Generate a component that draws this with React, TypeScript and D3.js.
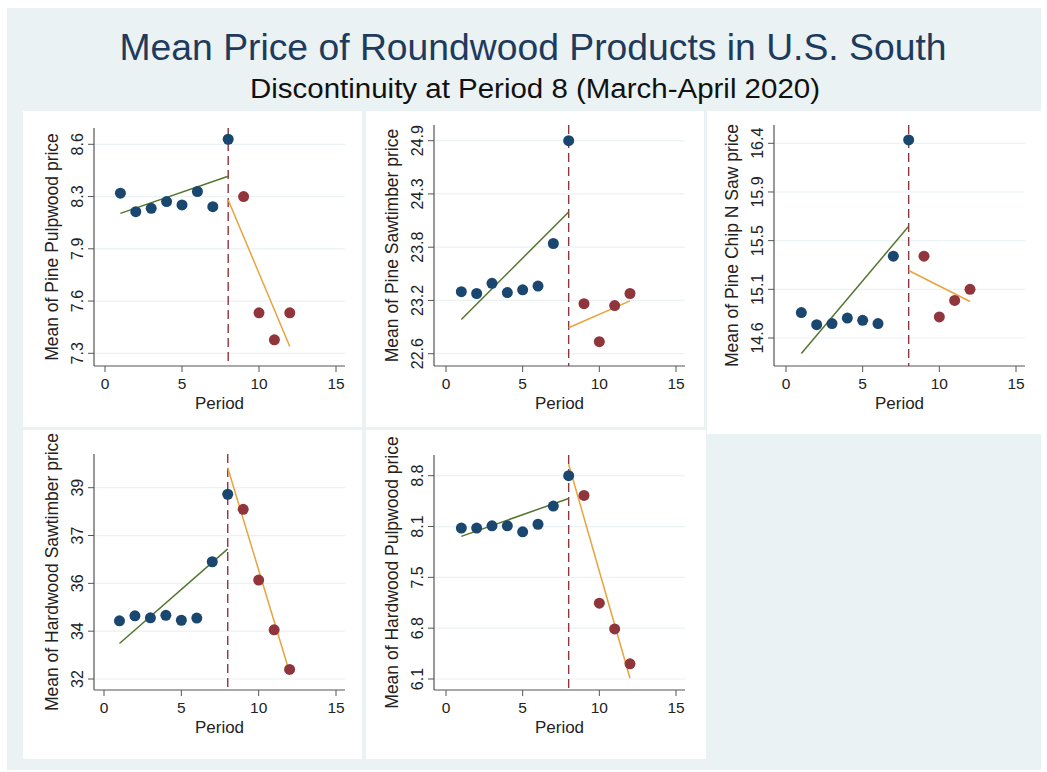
import * as d3 from 'd3';
import * as React from 'react';

// periods 1..12, breakpoint at 8
const periods = [1, 2, 3, 4, 5, 6, 7, 8, 9, 10, 11, 12];
const xTicks = [0, 5, 10, 15];
const cutoff = 8;

const yLabels = [
  'Mean of Pine Pulpwood price',
  'Mean of Pine Sawtimber price',
  'Mean of Pine Chip N Saw price',
  'Mean of Hardwood Sawtimber price',
  'Mean of Hardwood Pulpwood price',
];

// tick values (evenly spaced) and their printed labels
const yTickValues = [
  [7.32, 7.63, 7.94, 8.25, 8.56],
  [22.62, 23.195, 23.77, 24.345, 24.92],
  [14.62, 15.06, 15.5, 15.94, 16.38],
  [32.1, 33.85, 35.6, 37.35, 39.1],
  [6.12, 6.79, 7.46, 8.13, 8.8],
];
const yTickLabels = [
  ['7.3', '7.6', '7.9', '8.3', '8.6'],
  ['22.6', '23.2', '23.8', '24.3', '24.9'],
  ['14.6', '15.1', '15.5', '15.9', '16.4'],
  ['32', '34', '36', '37', '39'],
  ['6.1', '6.8', '7.5', '8.1', '8.8'],
];

// mean price per period
const pinePulp = [8.27, 8.16, 8.18, 8.22, 8.2, 8.28, 8.19, 8.59, 8.25, 7.56, 7.4, 7.56];
const pineSaw = [23.29, 23.27, 23.38, 23.28, 23.31, 23.35, 23.81, 24.92, 23.16, 22.75, 23.14, 23.27];
const pineCns = [14.85, 14.74, 14.75, 14.8, 14.78, 14.75, 15.36, 16.41, 15.36, 14.81, 14.96, 15.06];
const hardSaw = [34.23, 34.41, 34.34, 34.43, 34.25, 34.33, 36.39, 38.86, 38.31, 35.72, 33.9, 32.45];
const hardPulp = [8.11, 8.11, 8.14, 8.14, 8.06, 8.16, 8.4, 8.8, 8.54, 7.12, 6.78, 6.32];
const series = [pinePulp, pineSaw, pineCns, hardSaw, hardPulp];

// linear fit end values: [at period 1, at period 8] and [at period 8, at period 12]
const fitBefore = [
  [8.15, 8.37],
  [22.99, 24.15],
  [14.48, 15.63],
  [33.4, 36.86],
  [8.0, 8.5],
];
const fitAfter = [
  [8.23, 7.36],
  [22.9, 23.19],
  [15.23, 14.95],
  [39.83, 32.34],
  [8.95, 6.13],
];

// layout per panel
const boxes = [
  { x: 23, y: 111, w: 339, h: 316 },
  { x: 366, y: 111, w: 338, h: 316 },
  { x: 707, y: 111, w: 336, h: 323 },
  { x: 23, y: 430, w: 339, h: 329 },
  { x: 366, y: 430, w: 340, h: 329 },
];
const frames = [
  { x0: 105, x15: 336, yLo: 353.3, yHi: 144.3, axisY: 366, top: 128, axisX: 94 },
  { x0: 446, x15: 676, yLo: 353.7, yHi: 140.7, axisY: 366, top: 125, axisX: 434 },
  { x0: 786, x15: 1016, yLo: 338, yHi: 143.3, axisY: 366, top: 125, axisX: 774 },
  { x0: 104, x15: 336, yLo: 679, yHi: 487.7, axisY: 690, top: 454, axisX: 94 },
  { x0: 446, x15: 676, yLo: 679, yHi: 475.7, axisY: 690, top: 455, axisX: 434 },
];

const navy = '#1a476f';
const maroon = '#90353b';
const green = '#55752f';
const orange = '#e8a33c';
const bg = '#eaf2f3';
const font = 'Liberation Sans, Arial, sans-serif';

function Panel({ i }: { i: number }) {
  const f = frames[i];
  const b = boxes[i];
  const ticks = yTickValues[i];
  const x = d3.scaleLinear().domain([0, 15]).range([f.x0, f.x15]);
  const y = d3
    .scaleLinear()
    .domain([ticks[0], ticks[ticks.length - 1]])
    .range([f.yLo, f.yHi]);
  const right = x(15) + 9;
  const line = d3
    .line<[number, number]>()
    .x((d) => x(d[0]))
    .y((d) => y(d[1]));
  const before: [number, number][] = [
    [1, fitBefore[i][0]],
    [cutoff, fitBefore[i][1]],
  ];
  const after: [number, number][] = [
    [cutoff, fitAfter[i][0]],
    [12, fitAfter[i][1]],
  ];
  const vals = series[i];
  const midY = (f.top + f.axisY) / 2;
  const midX = (f.axisX + right) / 2;

  return (
    <g>
      <rect x={b.x} y={b.y} width={b.w} height={b.h} fill="#fff" />
      {ticks.map((t, k) => (
        <g key={k}>
          <line x1={f.axisX} x2={right} y1={y(t)} y2={y(t)} stroke={bg} strokeWidth={1.2} />
          <line x1={f.axisX - 6} x2={f.axisX} y1={y(t)} y2={y(t)} stroke="#555" />
          <text
            transform={`translate(${f.axisX - 11},${y(t)}) rotate(-90)`}
            textAnchor="middle"
            fontSize={16}
            fill="#222"
            fontFamily={font}
          >
            {yTickLabels[i][k]}
          </text>
        </g>
      ))}
      <line x1={f.axisX} x2={f.axisX} y1={f.top} y2={f.axisY} stroke="#555" strokeWidth={1.2} />
      <line x1={f.axisX} x2={right} y1={f.axisY} y2={f.axisY} stroke="#555" strokeWidth={1.2} />
      {xTicks.map((t) => (
        <g key={t}>
          <line x1={x(t)} x2={x(t)} y1={f.axisY} y2={f.axisY + 6} stroke="#555" />
          <text x={x(t)} y={f.axisY + 23} textAnchor="middle" fontSize={15.5} fill="#222" fontFamily={font}>
            {t}
          </text>
        </g>
      ))}
      <text x={midX} y={f.axisY + 43} textAnchor="middle" fontSize={17} fill="#222" fontFamily={font}>
        Period
      </text>
      <text
        transform={`translate(${f.axisX - 36},${midY}) rotate(-90)`}
        textAnchor="middle"
        fontSize={17.5}
        fill="#222"
        fontFamily={font}
      >
        {yLabels[i]}
      </text>
      <line
        x1={x(cutoff)}
        x2={x(cutoff)}
        y1={f.top}
        y2={f.axisY}
        stroke={maroon}
        strokeWidth={1.4}
        strokeDasharray="9,5"
      />
      <path d={line(before) ?? ''} fill="none" stroke={green} strokeWidth={1.5} />
      <path d={line(after) ?? ''} fill="none" stroke={orange} strokeWidth={1.5} />
      {periods.map((p, k) => (
        <circle key={p} cx={x(p)} cy={y(vals[k])} r={5.5} fill={p <= cutoff ? navy : maroon} />
      ))}
    </g>
  );
}

export default function App() {
  return (
    <svg
      width={1047}
      height={772}
      style={{ position: 'absolute', left: 0, top: 0 }}
    >
      <rect x={0} y={0} width={1047} height={772} fill="#fff" />
      <rect x={7} y={8} width={1034} height={762} fill={bg} />
      <text
        x={533}
        y={60}
        textAnchor="middle"
        fontSize={37}
        fill="#1e3a5c"
        fontFamily={font}
        textLength={827}
        lengthAdjust="spacingAndGlyphs"
      >
        Mean Price of Roundwood Products in U.S. South
      </text>
      <text
        x={535}
        y={98}
        textAnchor="middle"
        fontSize={27}
        fill="#111"
        fontFamily={font}
        textLength={570}
        lengthAdjust="spacingAndGlyphs"
      >
        Discontinuity at Period 8 (March-April 2020)
      </text>
      {yLabels.map((_, i) => (
        <Panel key={i} i={i} />
      ))}
    </svg>
  );
}
